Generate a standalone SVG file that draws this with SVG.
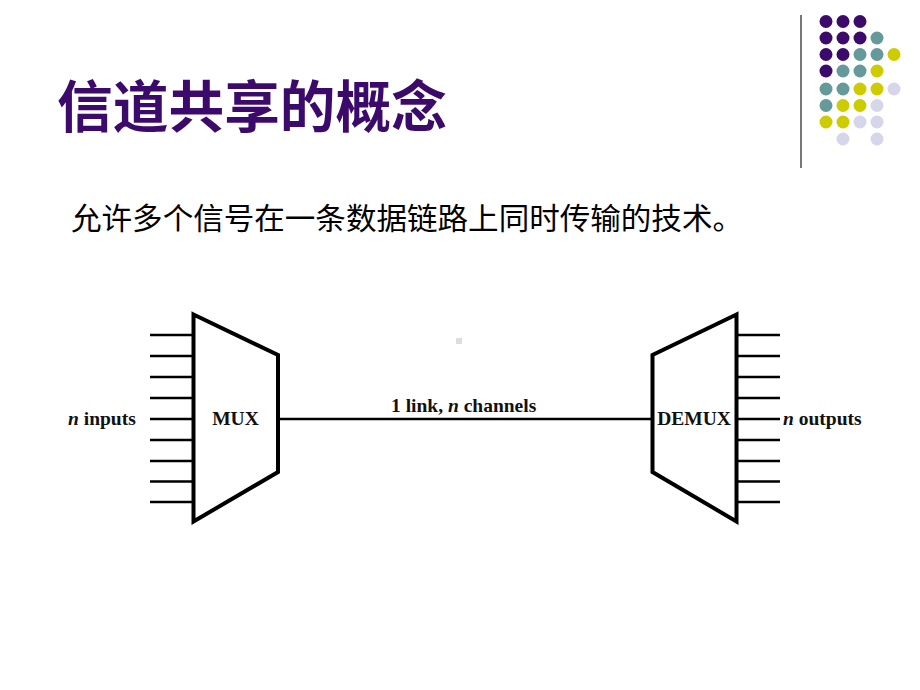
<svg xmlns="http://www.w3.org/2000/svg" width="920" height="690" viewBox="0 0 920 690">
<style>
.p{fill:#3c0a6a}.t{fill:#669999}.y{fill:#cccc00}.l{fill:#d6d6ea}
.box{fill:#fff;stroke:#000;stroke-width:4;stroke-linejoin:miter}
.wire{stroke:#000;stroke-width:2.6;fill:none}
.lbl{font-family:"Liberation Serif",serif;font-weight:bold;font-size:19.5px;fill:#111}
</style>
<rect width="920" height="690" fill="#fff"/>
<g id="decor">
<line x1="801" y1="15" x2="801" y2="168" stroke="#777" stroke-width="2"/>
<g>
<circle class="p" cx="826" cy="21.5" r="6.5"/><circle class="p" cx="843" cy="21.5" r="6.5"/><circle class="p" cx="860" cy="21.5" r="6.5"/>
<circle class="p" cx="826" cy="38" r="6.5"/><circle class="p" cx="843" cy="38" r="6.5"/><circle class="p" cx="860" cy="38" r="6.5"/><circle class="t" cx="877" cy="38" r="6.5"/>
<circle class="p" cx="826" cy="54.5" r="6.5"/><circle class="p" cx="843" cy="54.5" r="6.5"/><circle class="t" cx="860" cy="54.5" r="6.5"/><circle class="t" cx="877" cy="54.5" r="6.5"/><circle class="y" cx="894" cy="54.5" r="6.5"/>
<circle class="p" cx="826" cy="71" r="6.5"/><circle class="t" cx="843" cy="71" r="6.5"/><circle class="t" cx="860" cy="71" r="6.5"/><circle class="y" cx="877" cy="71" r="6.5"/>
<circle class="t" cx="826" cy="89" r="6.5"/><circle class="t" cx="843" cy="89" r="6.5"/><circle class="y" cx="860" cy="89" r="6.5"/><circle class="y" cx="877" cy="89" r="6.5"/><circle class="l" cx="894" cy="89" r="6.5"/>
<circle class="t" cx="826" cy="105.5" r="6.5"/><circle class="y" cx="843" cy="105.5" r="6.5"/><circle class="y" cx="860" cy="105.5" r="6.5"/><circle class="l" cx="877" cy="105.5" r="6.5"/>
<circle class="y" cx="826" cy="122" r="6.5"/><circle class="y" cx="843" cy="122" r="6.5"/><circle class="l" cx="860" cy="122" r="6.5"/><circle class="l" cx="877" cy="122" r="6.5"/>
<circle class="l" cx="843" cy="139" r="6.5"/><circle class="l" cx="877" cy="139" r="6.5"/>
</g>
</g>
<text x="57" y="127" font-family="'Noto Sans CJK SC',sans-serif" font-weight="bold" font-size="56" fill="#3c0a6a" textLength="390" lengthAdjust="spacingAndGlyphs">信道共享的概念</text>
<text x="71" y="229" font-family="'Noto Sans CJK SC',sans-serif" font-size="30" fill="#000" textLength="672" lengthAdjust="spacingAndGlyphs">允许多个信号在一条数据链路上同时传输的技术。</text>
<rect x="456" y="338" width="6" height="6" fill="#ddd"/>
<g id="connectors">
<g class="wire">
<path d="M150 335H193M150 356H193M150 377H193M150 398H193M150 419H193M150 440H193M150 461H193M150 481.5H193M150 502H193"/>
<path d="M737 335H780M737 356H780M737 377H780M737 398H780M737 419H780M737 440H780M737 461H780M737 481.5H780M737 502H780"/>
<line x1="278" y1="419" x2="652" y2="419"/>
</g>
<text class="lbl" x="391" y="412">1 link, <tspan font-style="italic">n</tspan> channels</text>
</g>
<g id="mux">
<polygon class="box" points="193.5,314.5 278,355 278,472 193.5,521.5"/>
<text class="lbl" x="235.5" y="425" text-anchor="middle">MUX</text>
<text class="lbl" x="68" y="425"><tspan font-style="italic">n</tspan> inputs</text>
</g>
<g id="demux">
<polygon class="box" points="736.5,314.5 652.5,355 652.5,472 736.5,521.5"/>
<text class="lbl" x="694" y="425" text-anchor="middle">DEMUX</text>
<text class="lbl" x="783" y="425"><tspan font-style="italic">n</tspan> outputs</text>
</g>
</svg>
